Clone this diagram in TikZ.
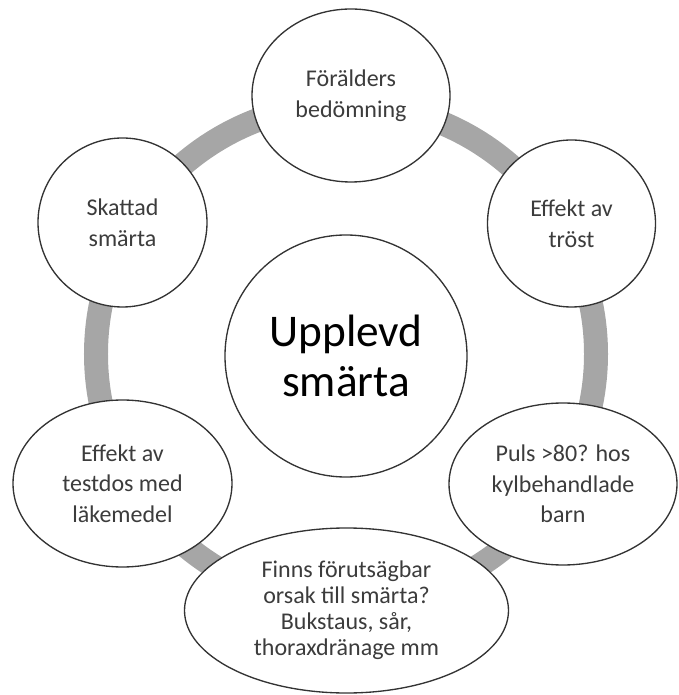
\documentclass[tikz,border=0pt]{standalone}
\usepackage{fontspec}
\setmainfont{Carlito}
\usetikzlibrary{shapes.geometric}
\definecolor{ringGray}{RGB}{166,166,166}
\definecolor{lineGray}{RGB}{51,51,51}
\definecolor{textGray}{RGB}{60,60,60}
\begin{document}
\begin{tikzpicture}
[x=0.75pt,y=0.75pt,%
  ringLine/.style={line width=18pt,color=ringGray},%
  nodeDecorate/.style={shape=ellipse,draw=lineGray,line width=1pt,fill=white,inner sep=0pt,%
    align=center,text=textGray,font=\fontsize{18}{23}\selectfont}]
\useasboundingbox (-346,-341) rectangle (332,354);
%% ring behind the nodes
\coordinate (hub) at (0,0);
\draw[ringLine] (hub) circle (250);
%% center node
\node (upplevd) at (0,-2) [nodeDecorate,shape=circle,minimum size=181.5pt,text=black,%
  font=\fontsize{34}{37.5}\selectfont] {Upplevd\\smärta};
%% nodes on the ring
\foreach \nodename/\x/\y/\w/\h/\txt in {parent/5/258.5/198/173/{Förälders\\bedömning},
  comfort/225.5/130.5/168/167/{Effekt av\\tröst},
  pulse/217/-130/228/162/{Puls >80? hos\\kylbehandlade\\barn},
  testdose/-223.5/-129.5/219/167/{Effekt av\\testdos med\\läkemedel},
  rated/-223.5/131.5/169/169/{Skattad\\smärta}}
{
  \node (\nodename) at (\x,\y) [nodeDecorate,minimum width=\w*0.75pt,minimum height=\h*0.75pt] {\txt};
}
\node (cause) at (0.5,-256.5) [nodeDecorate,minimum width=243pt,minimum height=123.75pt,%
  font=\fontsize{18}{19.5}\selectfont] {Finns förutsägbar\\orsak till smärta?\\Bukstaus, sår,\\thoraxdränage mm};
\end{tikzpicture}
\end{document}
